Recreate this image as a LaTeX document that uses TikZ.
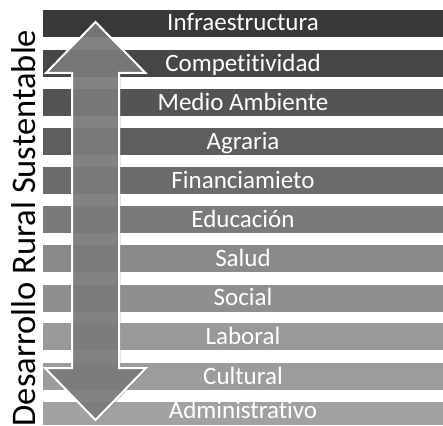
\documentclass[tikz,border=0pt]{standalone}
\usepackage{fontspec}
\setmainfont{Carlito}[Ligatures=NoCommon]
\usetikzlibrary{shadows}

\begin{document}
\begin{tikzpicture}[x=1pt,y=-1pt,
  bar/.style={fill=black!#1,text=white,minimum width=400pt,minimum height=27pt,
    inner sep=0pt,text height=18pt,text depth=3pt,font=\fontsize{25}{25}\selectfont},
  updown/.style={fill=black!52,fill opacity=0.9,draw=white,line width=2pt,line join=miter,
    drop shadow={opacity=0.35,shadow xshift=1.5pt,shadow yshift=-1.5pt}}]
\useasboundingbox (0,0) rectangle (443,425);
\clip (0,0) rectangle (443,425);
\node [bar=78] (infra) at (243,23.5) {Infraestructura};
\node [bar=72] (compet) at (243,63.5) {Competitividad};
\node [bar=67] (medio) at (243,102.5) {Medio Ambiente};
\node [bar=63] (agraria) at (243,141.5) {Agraria};
\node [bar=58] (finan) at (243,180.5) {Financiamieto};
\node [bar=52] (educ) at (243,219.5) {Educación};
\node [bar=46] (salud) at (243,258.5) {Salud};
\node [bar=44] (social) at (243,298) {Social};
\node [bar=40] (laboral) at (243,336.5) {Laboral};
\node [bar=39] (cultural) at (243,376.5) {Cultural};
\node [bar=37,minimum height=23pt,text height=12pt] (admin) at (243,413.5) {Administrativo};
% flecha doble
\path [updown] (95.5,22) -- (145.5,73) -- (119,73) -- (119,368) -- (146,368)
  -- (95.5,420) -- (45,368) -- (72,368) -- (72,73) -- (46,73) -- cycle;
\node [rotate=90,anchor=base,inner sep=0pt,font=\fontsize{34.5}{34.5}\selectfont]
  (drs) at (35,228) {Desarrollo Rural Sustentable};
\end{tikzpicture}
\end{document}
